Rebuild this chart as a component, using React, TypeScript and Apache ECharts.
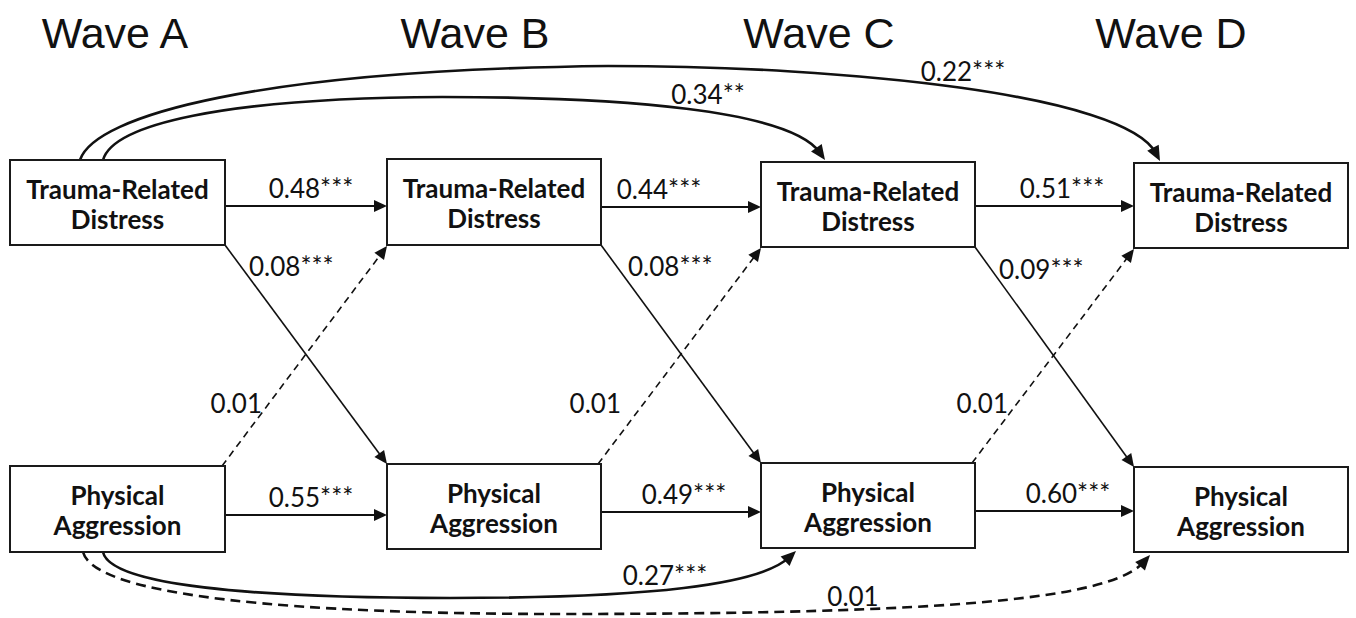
import React, { useEffect, useRef } from "react";
import * as echarts from "echarts";

// ---------------- data ----------------
const waves = ["Wave A", "Wave B", "Wave C", "Wave D"];
const constructs = ["Trauma-Related\nDistress", "Physical\nAggression"];
// autoregressive paths (wave i -> wave i+1)
const distressStability = ["0.48***", "0.44***", "0.51***"];
const aggressionStability = ["0.55***", "0.49***", "0.60***"];
// cross-lagged paths (wave i -> wave i+1)
const distressToAggression = ["0.08***", "0.08***", "0.09***"];
const aggressionToDistress = ["0.01", "0.01", "0.01"];
// long-range paths from Wave A (target wave index)
const distressLongTargets = [2, 3];
const distressLongLabels = ["0.34**", "0.22***"];
const aggressionLongTargets = [2, 3];
const aggressionLongLabels = ["0.27***", "0.01"];

// ---------------- layout (diagram units = px) ----------------
const W = 1356;
const H = 618;
const BOX_X = [[10, 225], [387, 601], [761, 975], [1134, 1348]];
const BOX_Y = [
  [[160, 245], [466, 552]],
  [[159, 245], [464, 549]],
  [[162, 247], [463, 548]],
  [[163, 248], [467, 552]],
];
const TITLE_X = [115, 475, 819, 1171];
const TITLE_Y = 33;
const H_ARROW_Y = [[206, 207, 206], [515, 512, 511]];
const H_LABEL_X = [[311, 659, 1062], [311, 684, 1068]];
const CROSS_DOWN_LABEL = [[249, 266], [628, 266], [999, 269]];
const CROSS_UP_LABEL = [[262, 403], [621, 403], [1008, 403]];
// curve geometry: start offset on Wave A box, control points, end offset on target box, label position
const LONG_TOP_GEOM = [
  { s: 93, c: [[113, 125], [220, 98], [442, 97], [620, 97], [790, 110]], e: 64, label: [708, 94] },
  { s: 70, c: [[95, 115], [260, 70], [608, 66], [850, 66], [1125, 95]], e: 26, label: [963, 71] },
];
const LONG_BOTTOM_GEOM = [
  { s: 93, c: [[110, 585], [250, 598], [450, 598], [650, 598], [760, 585]], e: 35, label: [665, 575] },
  { s: 73, c: [[95, 597], [300, 614], [560, 614], [960, 614], [1112, 598]], e: 16, label: [853, 596] },
];

const INK = "#111";
const LABEL_FONT = "Lato";

type Edge = {
  pts: number[][];
  curve: boolean;
  dashed: boolean;
  width: number;
  label: string;
  lx: number;
  ly: number;
  align: string;
};

const isSig = (s: string) => s.indexOf("*") >= 0;

const edges: Edge[] = [];
for (let i = 0; i < 3; i++) {
  edges.push({
    pts: [[BOX_X[i][1], H_ARROW_Y[0][i]], [BOX_X[i + 1][0], H_ARROW_Y[0][i]]],
    curve: false, dashed: !isSig(distressStability[i]), width: 1.8,
    label: distressStability[i], lx: H_LABEL_X[0][i], ly: H_ARROW_Y[0][i] - 18, align: "center",
  });
  edges.push({
    pts: [[BOX_X[i][1], H_ARROW_Y[1][i]], [BOX_X[i + 1][0], H_ARROW_Y[1][i]]],
    curve: false, dashed: !isSig(aggressionStability[i]), width: 1.8,
    label: aggressionStability[i], lx: H_LABEL_X[1][i], ly: H_ARROW_Y[1][i] - 18, align: "center",
  });
  edges.push({
    pts: [[BOX_X[i][1], BOX_Y[i][0][1]], [BOX_X[i + 1][0], BOX_Y[i + 1][1][0]]],
    curve: false, dashed: !isSig(distressToAggression[i]), width: 1.6,
    label: distressToAggression[i], lx: CROSS_DOWN_LABEL[i][0], ly: CROSS_DOWN_LABEL[i][1], align: "left",
  });
  edges.push({
    pts: [[BOX_X[i][1] - 3, BOX_Y[i][1][0]], [BOX_X[i + 1][0], BOX_Y[i + 1][0][1] + 1]],
    curve: false, dashed: !isSig(aggressionToDistress[i]), width: 1.6,
    label: aggressionToDistress[i], lx: CROSS_UP_LABEL[i][0], ly: CROSS_UP_LABEL[i][1], align: "right",
  });
}
for (let k = 0; k < distressLongTargets.length; k++) {
  const g = LONG_TOP_GEOM[k];
  const t = distressLongTargets[k];
  edges.push({
    pts: [[BOX_X[0][0] + g.s, BOX_Y[0][0][0]], ...g.c, [BOX_X[t][0] + g.e, BOX_Y[t][0][0] - 2]],
    curve: true, dashed: !isSig(distressLongLabels[k]), width: 2.6,
    label: distressLongLabels[k], lx: g.label[0], ly: g.label[1], align: "center",
  });
}
for (let k = 0; k < aggressionLongTargets.length; k++) {
  const g = LONG_BOTTOM_GEOM[k];
  const t = aggressionLongTargets[k];
  edges.push({
    pts: [[BOX_X[0][0] + g.s, BOX_Y[0][1][1]], ...g.c, [BOX_X[t][0] + g.e, BOX_Y[t][1][1] + 3]],
    curve: true, dashed: !isSig(aggressionLongLabels[k]), width: 2.6,
    label: aggressionLongLabels[k], lx: g.label[0], ly: g.label[1], align: "center",
  });
}

function renderEdge(_params: any, api: any) {
  const e = edges[api.value(2)];
  const P: number[][] = e.pts.map((p) => api.coord(p));
  const end = P[P.length - 1];
  const prev = P[P.length - 2];
  let dx = end[0] - prev[0];
  let dy = end[1] - prev[1];
  const len = Math.hypot(dx, dy) || 1;
  dx /= len;
  dy /= len;
  const AL = e.curve ? 15 : 13;
  const AW = e.curve ? 6.5 : 6;
  const bx = end[0] - dx * AL;
  const by = end[1] - dy * AL;
  const lineEnd = [end[0] - dx * AL * 0.6, end[1] - dy * AL * 0.6];
  let d = `M${P[0][0]} ${P[0][1]}`;
  if (e.curve) {
    for (let s = 1; s + 2 < P.length; s += 3) {
      const q = s + 2 === P.length - 1 ? lineEnd : P[s + 2];
      d += ` C${P[s][0]} ${P[s][1]} ${P[s + 1][0]} ${P[s + 1][1]} ${q[0]} ${q[1]}`;
    }
  } else {
    d += ` L${lineEnd[0]} ${lineEnd[1]}`;
  }
  const lp = api.coord([e.lx, e.ly]);
  return {
    type: "group",
    children: [
      {
        type: "path",
        shape: { pathData: d },
        style: {
          fill: "none",
          stroke: INK,
          lineWidth: e.width,
          lineDash: e.dashed ? (e.curve ? [10, 6] : [7, 5]) : null,
        },
      },
      {
        type: "polygon",
        shape: { points: [end, [bx - dy * AW, by + dx * AW], [bx + dy * AW, by - dx * AW]] },
        style: { fill: INK },
      },
      {
        type: "text",
        style: {
          text: e.label,
          x: lp[0],
          y: lp[1],
          fill: INK,
          fontSize: 26,
          fontFamily: LABEL_FONT,
          align: e.align,
          verticalAlign: "middle",
        },
      },
    ],
  };
}

function renderNode(_params: any, api: any) {
  const w = api.value(2);
  const r = api.value(3);
  const p1 = api.coord([BOX_X[w][0], BOX_Y[w][r][0]]);
  const p2 = api.coord([BOX_X[w][1], BOX_Y[w][r][1]]);
  return {
    type: "group",
    children: [
      {
        type: "rect",
        shape: { x: p1[0], y: p1[1], width: p2[0] - p1[0], height: p2[1] - p1[1] },
        style: { fill: "#fff", stroke: "#1a1a1a", lineWidth: 2 },
      },
      {
        type: "text",
        style: {
          text: constructs[r],
          x: (p1[0] + p2[0]) / 2,
          y: (p1[1] + p2[1]) / 2 + 1,
          fill: INK,
          fontSize: 26,
          fontWeight: "bold",
          fontFamily: LABEL_FONT,
          lineHeight: 30,
          align: "center",
          verticalAlign: "middle",
        },
      },
    ],
  };
}

function renderTitle(_params: any, api: any) {
  const i = api.value(2);
  const p = api.coord([api.value(0), api.value(1)]);
  return {
    type: "text",
    style: {
      text: waves[i],
      x: p[0],
      y: p[1],
      fill: INK,
      fontSize: 43,
      fontFamily: "Liberation Sans",
      align: "center",
      verticalAlign: "middle",
    },
  };
}

export default function App() {
  const ref = useRef<HTMLDivElement>(null);
  useEffect(() => {
    if (!ref.current) return;
    const chart = echarts.init(ref.current, undefined, { renderer: "svg" });
    const nodeData: number[][] = [];
    for (let w = 0; w < waves.length; w++) {
      for (let r = 0; r < constructs.length; r++) {
        nodeData.push([
          (BOX_X[w][0] + BOX_X[w][1]) / 2,
          (BOX_Y[w][r][0] + BOX_Y[w][r][1]) / 2,
          w,
          r,
        ]);
      }
    }
    const edgeData = edges.map((e, i) => [e.lx, e.ly, i]);
    const titleData = waves.map((_, i) => [TITLE_X[i], TITLE_Y, i]);
    chart.setOption({
      animation: false,
      backgroundColor: "#fff",
      grid: { left: 0, right: 0, top: 0, bottom: 0, containLabel: false },
      xAxis: { type: "value", min: 0, max: W, show: false },
      yAxis: { type: "value", min: 0, max: H, inverse: true, show: false },
      series: [
        {
          type: "custom",
          name: "paths",
          coordinateSystem: "cartesian2d",
          renderItem: renderEdge,
          data: edgeData,
          clip: false,
          silent: true,
          z: 1,
        },
        {
          type: "custom",
          name: "variables",
          coordinateSystem: "cartesian2d",
          renderItem: renderNode,
          data: nodeData,
          clip: false,
          silent: true,
          z: 2,
        },
        {
          type: "custom",
          name: "waves",
          coordinateSystem: "cartesian2d",
          renderItem: renderTitle,
          data: titleData,
          clip: false,
          silent: true,
          z: 3,
        },
      ],
    });
    return () => chart.dispose();
  }, []);
  return (
    <div
      ref={ref}
      style={{ position: "fixed", left: 0, top: 0, width: W, height: H, background: "#fff" }}
    />
  );
}
